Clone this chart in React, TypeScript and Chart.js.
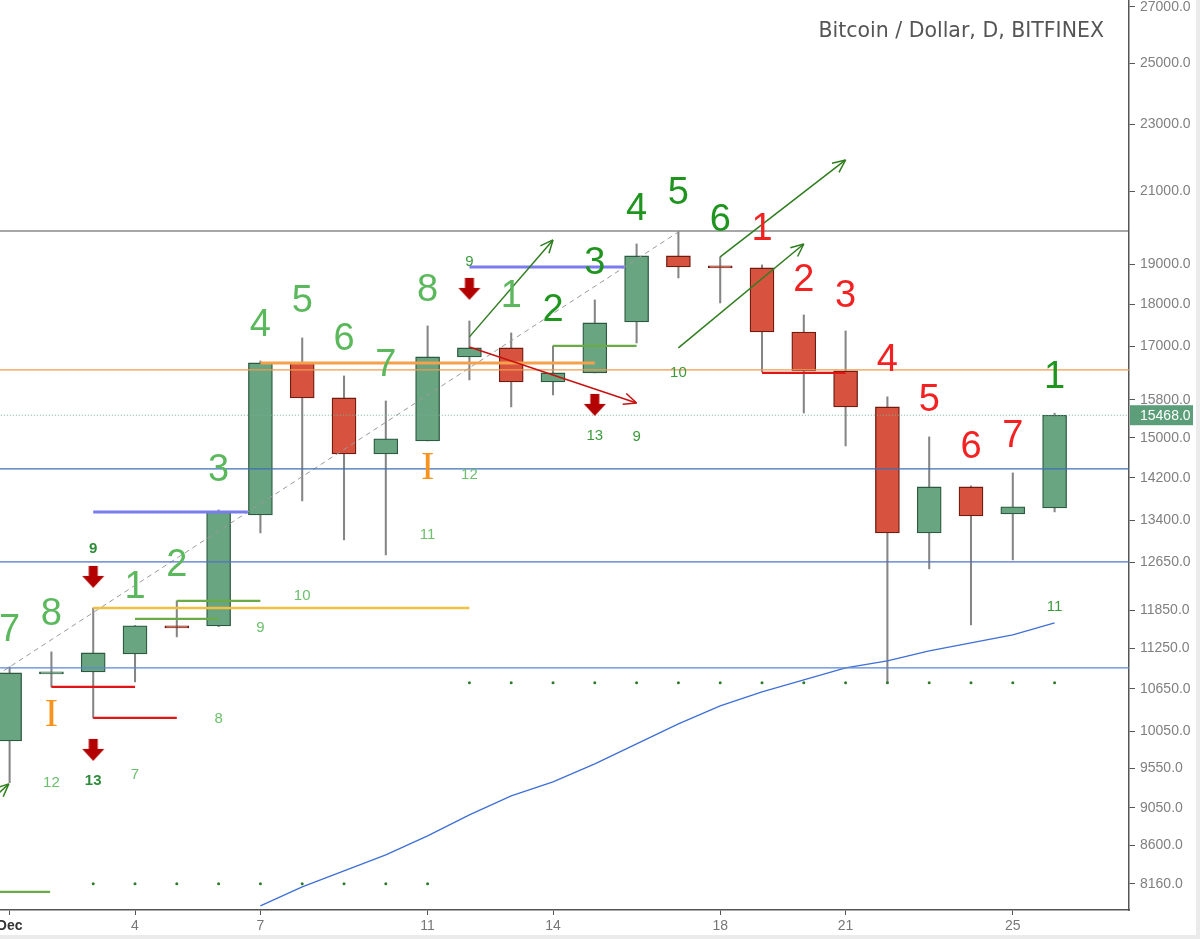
import React, { useEffect, useRef } from 'react';
import { Chart, registerables } from 'chart.js';

Chart.register(...registerables);

// ---------- candles (Dec 1 .. Dec 26) ----------
const DAYS = [1, 2, 3, 4, 5, 6, 7, 8, 9, 10, 11, 12, 13, 14, 15, 16, 17, 18, 19, 20, 21, 22, 23, 24, 25, 26];
const OPEN = [9918, 10868, 10897, 11168, 11603, 11603, 13500, 16612, 15837, 14672, 14935, 16748, 16955, 16187, 16387, 17568, 19223, 18963, 18911, 17329, 16432, 15644, 13173, 14026, 13519, 13630];
const HIGH = [10972, 11199, 11891, 11610, 12006, 13593, 16657, 17188, 16320, 15772, 17472, 17591, 17306, 17002, 18103, 19540, 19862, 19197, 18989, 17736, 17353, 15859, 15017, 14045, 14297, 15510];
const LOW = [9366, 10676, 10234, 10750, 11430, 11590, 13173, 13761, 13048, 12783, 14935, 16231, 15644, 15902, 16387, 17071, 18654, 18029, 16409, 15516, 14833, 10735, 12542, 11619, 12697, 13556];
const CLOSE = [10882, 10897, 11183, 11603, 11571, 13556, 16612, 15837, 14672, 14976, 16748, 16955, 16187, 16387, 17544, 19223, 18937, 18911, 17329, 16432, 15644, 13173, 14026, 13482, 13649, 15468];

// ---------- moving average ----------
const MA_DAYS = [7, 8, 9, 10, 11, 12, 13, 14, 15, 16, 17, 18, 19, 20, 21, 22, 23, 24, 25, 26];
const MA_VALUES = [7919, 8127, 8306, 8489, 8712, 8966, 9201, 9379, 9612, 9878, 10151, 10403, 10604, 10779, 10957, 11062, 11214, 11337, 11462, 11651];

// ---------- axes ----------
const X_MIN = 0.77;
const X_MAX = 27.78;
const X_TICKS = [1, 4, 7, 11, 14, 18, 21, 25];
const X_TICK_TEXT = ['Dec', '4', '7', '11', '14', '18', '21', '25'];
const Y_MIN = 7874;
const Y_MAX = 27259;
const Y_TICKS = [8160, 8600, 9050, 9550, 10050, 10650, 11250, 11850, 12650, 13400, 14200, 15000, 15800, 17000, 18000, 19000, 21000, 23000, 25000, 27000];
const LAST_PRICE = 15468;
const TITLE = 'Bitcoin / Dollar, D, BITFINEX';

// ---------- horizontal levels ----------
const LEVEL_PRICES = [19889, 16454, 14375, 12662, 10957, 15468, 16612, 13556, 18937, 11891, 11715, 12006, 17002, 8072, 10676, 10234, 16387];
const LEVEL_FROM = [0, 0, 0, 0, 0, 0, 7, 3, 12, 3, 4, 5, 14, 0.5, 2, 3, 19];
const LEVEL_TO = [28, 28, 28, 28, 28, 28, 15, 6.7, 15.71, 12, 6, 7, 16, 1.97, 4, 5, 21];
const LEVEL_KIND = ['grey', 'orangeThin', 'blueA', 'blueB', 'blueC', 'dotted', 'orangeThick', 'purple', 'purple', 'yellow', 'green', 'green', 'green', 'green', 'red', 'red', 'red'];

// ---------- trend line ----------
const TREND_DAYS = [0.5, 17];
const TREND_PRICES = [10770, 19862];

// ---------- arrows ----------
const ARROW_X1 = [12, 18, 17, 12, 0.3];
const ARROW_P1 = [17213, 19197, 16955, 16978, 9027];
const ARROW_X2 = [14, 21, 20, 16, 0.98];
const ARROW_P2 = [19648, 21914, 19540, 15729, 9353];
const ARROW_TONE = ['g', 'g', 'g', 'r', 'g'];

// ---------- block down arrows ----------
const DOWN_DAYS = [3, 3, 12, 15];
const DOWN_PRICES = [12405, 9797, 18377, 15687];

// ---------- dots ----------
const DOT_TOP_DAYS = [12, 13, 14, 15, 16, 17, 18, 19, 20, 21, 22, 23, 24, 25, 26];
const DOT_TOP_PRICE = 10735;
const DOT_BOTTOM_DAYS = [3, 4, 5, 6, 7, 8, 9, 10, 11];
const DOT_BOTTOM_PRICE = 8160;

// ---------- setup counts (big numbers) ----------
const SETUP_TEXT = ['7', '8', '1', '2', '3', '4', '5', '6', '7', '8', '1', '2', '3', '4', '5', '6', '1', '2', '3', '4', '5', '6', '7', '1'];
const SETUP_DAYS = [1, 2, 4, 5, 6, 7, 8, 9, 10, 11, 13, 14, 15, 16, 17, 18, 19, 20, 21, 22, 23, 24, 25, 26];
const SETUP_PRICES = [11587, 11827, 12271, 12645, 14395, 17568, 18152, 17236, 16635, 18427, 18276, 17931, 19118, 20581, 21035, 20274, 20027, 18680, 18276, 16748, 15859, 14874, 15099, 16364];
const SETUP_TONE = ['l', 'l', 'l', 'l', 'l', 'l', 'l', 'l', 'l', 'l', 'l', 'd', 'd', 'd', 'd', 'd', 'r', 'r', 'r', 'r', 'r', 'r', 'r', 'd'];

// ---------- countdown (small numbers) ----------
const COUNT_TEXT = ['9', '13', '12', '7', '8', '9', '10', '11', '12', '9', '13', '9', '10', '11'];
const COUNT_DAYS = [3, 3, 2, 4, 6, 7, 8, 11, 12, 12, 15, 16, 17, 26];
const COUNT_PRICES = [12906, 9404, 9378, 9482, 10234, 11587, 12104, 13155, 14277, 19092, 15058, 15037, 16409, 11924];
const COUNT_TONE = ['b', 'b', 'l', 'l', 'l', 'l', 'l', 'l', 'l', 'm', 'm', 'm', 'm', 'm'];

// ---------- "I" marks ----------
const I_DAYS = [2, 11];
const I_PRICES = [10304, 14434];

const LEVEL_STYLE: any = {
  grey: { borderColor: '#505050', borderWidth: 1.2 },
  orangeThin: { borderColor: '#ef9a4c', borderWidth: 1.3 },
  blueA: { borderColor: '#3d6fb8', borderWidth: 1.2 },
  blueB: { borderColor: '#5273c8', borderWidth: 1.3 },
  blueC: { borderColor: '#5b86d6', borderWidth: 1.3 },
  dotted: { borderColor: '#74b295', borderWidth: 1, borderDash: [1, 2] },
  orangeThick: { borderColor: '#f5a04a', borderWidth: 3 },
  purple: { borderColor: '#7b7bf0', borderWidth: 3 },
  yellow: { borderColor: '#f2c040', borderWidth: 2.5 },
  green: { borderColor: '#6aab48', borderWidth: 2.2 },
  red: { borderColor: '#e01515', borderWidth: 2.2 },
};
const ARROW_COLOR: any = { g: '#2f7d1f', r: '#c81010' };
const SETUP_COLOR: any = { l: '#5cb85c', d: '#1f951f', r: '#f32222' };
const COUNT_STYLE: any = {
  b: { color: '#2e8b3a', weight: 'bold' },
  l: { color: '#6cbf6c', weight: 'normal' },
  m: { color: '#3c9a3c', weight: 'normal' },
};

function makeDownArrow(color: string) {
  const c = document.createElement('canvas');
  c.width = 24;
  c.height = 24;
  const g = c.getContext('2d')!;
  g.fillStyle = color;
  g.beginPath();
  g.moveTo(7.5, 1);
  g.lineTo(16.5, 1);
  g.lineTo(16.5, 11);
  g.lineTo(23, 11);
  g.lineTo(12, 23);
  g.lineTo(1, 11);
  g.lineTo(7.5, 11);
  g.closePath();
  g.fill();
  return c;
}

const annotPlugin: any = {
  id: 'annot',
  beforeDraw(chart: any) {
    const { ctx, width, height } = chart;
    ctx.save();
    ctx.fillStyle = '#ffffff';
    ctx.fillRect(0, 0, width, height);
    ctx.fillStyle = '#ebebeb';
    ctx.fillRect(0, height - 4, width, 4);
    ctx.fillRect(width - 4, 0, 4, height);
    ctx.restore();
  },
  afterDatasetsDraw(chart: any) {
    const { ctx } = chart;
    const xs = chart.scales.x;
    const ys = chart.scales.y;
    ctx.save();
    // arrow heads
    chart.data.datasets.forEach((ds: any, i: number) => {
      if (!ds.arrowHead) return;
      const pts = chart.getDatasetMeta(i).data;
      const a = pts[0];
      const b = pts[1];
      const ang = Math.atan2(b.y - a.y, b.x - a.x);
      ctx.strokeStyle = ds.borderColor;
      ctx.lineWidth = 1.5;
      ctx.beginPath();
      for (const s of [-1, 1]) {
        ctx.moveTo(b.x, b.y);
        ctx.lineTo(b.x - 14 * Math.cos(ang + s * 0.42), b.y - 14 * Math.sin(ang + s * 0.42));
      }
      ctx.stroke();
    });
    // setup numbers
    ctx.textAlign = 'center';
    ctx.textBaseline = 'alphabetic';
    ctx.font = "38px 'Liberation Sans', Arial, sans-serif";
    SETUP_TEXT.forEach((t, i) => {
      ctx.fillStyle = SETUP_COLOR[SETUP_TONE[i]];
      ctx.fillText(t, xs.getPixelForValue(SETUP_DAYS[i]), ys.getPixelForValue(SETUP_PRICES[i]) + 13.6);
    });
    // countdown numbers
    COUNT_TEXT.forEach((t, i) => {
      const st = COUNT_STYLE[COUNT_TONE[i]];
      ctx.font = `${st.weight} 15px 'Liberation Sans', Arial, sans-serif`;
      ctx.fillStyle = st.color;
      ctx.fillText(t, xs.getPixelForValue(COUNT_DAYS[i]), ys.getPixelForValue(COUNT_PRICES[i]) + 5.4);
    });
    // I marks
    ctx.font = "40px 'Liberation Serif', 'DejaVu Serif', serif";
    ctx.fillStyle = '#f7931e';
    I_DAYS.forEach((d, i) => {
      ctx.fillText('I', xs.getPixelForValue(d), ys.getPixelForValue(I_PRICES[i]) + 13);
    });
    ctx.restore();
  },
  afterDraw(chart: any) {
    const { ctx } = chart;
    const ys = chart.scales.y;
    ctx.save();
    ctx.font = "20.5px 'DejaVu Sans', sans-serif";
    ctx.fillStyle = '#555555';
    ctx.textAlign = 'right';
    ctx.textBaseline = 'alphabetic';
    ctx.fillText(TITLE, 1104, 37);
    // last price tag
    const py = ys.getPixelForValue(LAST_PRICE);
    ctx.fillStyle = '#5c9e79';
    ctx.fillRect(chart.chartArea.right + 1, py - 10, 63, 20);
    ctx.fillStyle = '#ffffff';
    ctx.font = "14px 'Liberation Sans', Arial, sans-serif";
    ctx.textAlign = 'left';
    ctx.textBaseline = 'middle';
    ctx.fillText(LAST_PRICE.toFixed(1), chart.chartArea.right + 11, py + 1);
    ctx.restore();
  },
};

export default function App() {
  const ref = useRef<HTMLCanvasElement>(null);
  useEffect(() => {
    document.body.style.margin = '0';
    const canvas = ref.current!;
    const downArrow = makeDownArrow('#b30000');
    const datasets: any[] = [];

    // wicks
    datasets.push({
      type: 'bar',
      data: DAYS.map((d, i) => ({ x: d, y: [LOW[i], HIGH[i]] })),
      backgroundColor: '#858585',
      barThickness: 1.4,
      grouped: false,
      order: 10,
    });
    // bodies
    datasets.push({
      type: 'bar',
      data: DAYS.map((d, i) => ({ x: d, y: [OPEN[i], CLOSE[i]] })),
      backgroundColor: DAYS.map((_, i) => (CLOSE[i] >= OPEN[i] ? '#6aa581' : '#d8533f')),
      borderColor: DAYS.map((_, i) => (CLOSE[i] >= OPEN[i] ? '#2c5a40' : '#6e1c10')),
      borderWidth: 1.3,
      borderSkipped: false,
      barThickness: 24,
      grouped: false,
      order: 9,
    });
    // levels
    LEVEL_PRICES.forEach((p, i) => {
      datasets.push({
        type: 'line',
        data: [{ x: LEVEL_FROM[i], y: p }, { x: LEVEL_TO[i], y: p }],
        ...LEVEL_STYLE[LEVEL_KIND[i]],
        pointRadius: 0,
        order: 2,
      });
    });
    // trend line
    datasets.push({
      type: 'line',
      data: TREND_DAYS.map((d, i) => ({ x: d, y: TREND_PRICES[i] })),
      borderColor: '#9a9a9a',
      borderWidth: 1,
      borderDash: [5, 4],
      pointRadius: 0,
      order: 2,
    });
    // moving average
    datasets.push({
      type: 'line',
      data: MA_DAYS.map((d, i) => ({ x: d, y: MA_VALUES[i] })),
      borderColor: '#3e6fd6',
      borderWidth: 1.3,
      pointRadius: 0,
      tension: 0,
      order: 2,
    });
    // arrows
    ARROW_X1.forEach((x1, i) => {
      datasets.push({
        type: 'line',
        data: [{ x: x1, y: ARROW_P1[i] }, { x: ARROW_X2[i], y: ARROW_P2[i] }],
        borderColor: ARROW_COLOR[ARROW_TONE[i]],
        borderWidth: 1.5,
        pointRadius: 0,
        arrowHead: true,
        order: 1,
      });
    });
    // block arrows
    datasets.push({
      type: 'line',
      data: DOWN_DAYS.map((d, i) => ({ x: d, y: DOWN_PRICES[i] })),
      showLine: false,
      pointStyle: downArrow,
      pointRadius: 10,
      order: 1,
    });
    // dots
    datasets.push({
      type: 'line',
      data: [
        ...DOT_TOP_DAYS.map((d) => ({ x: d, y: DOT_TOP_PRICE })),
        ...DOT_BOTTOM_DAYS.map((d) => ({ x: d, y: DOT_BOTTOM_PRICE })),
      ],
      showLine: false,
      pointRadius: 1.5,
      pointBorderWidth: 0,
      pointBackgroundColor: '#2d7a2d',
      order: 1,
    });

    Chart.defaults.font.family = "'Liberation Sans', Arial, sans-serif";

    const chart = new Chart(canvas, {
      type: 'line',
      data: { datasets },
      options: {
        animation: false,
        responsive: true,
        maintainAspectRatio: false,
        events: [],
        layout: { padding: 0, autoPadding: false },
        plugins: { legend: { display: false }, tooltip: { enabled: false }, title: { display: false } },
        scales: {
          x: {
            type: 'linear',
            position: 'bottom',
            min: X_MIN,
            max: X_MAX,
            bounds: 'data',
            offset: false,
            afterBuildTicks: (s: any) => {
              s.ticks = X_TICKS.map((v) => ({ value: v }));
            },
            afterFit: (s: any) => {
              s.height = 29;
              s.paddingLeft = 0;
              s.paddingRight = 0;
            },
            grid: { drawOnChartArea: false, drawTicks: true, tickLength: 5, color: '#555', offset: false },
            border: { display: true, color: '#555', width: 1.5 },
            ticks: {
              autoSkip: false,
              maxRotation: 0,
              padding: 3,
              callback: (v: any) => {
                const k = X_TICKS.indexOf(Number(v));
                return k >= 0 ? X_TICK_TEXT[k] : '';
              },
              font: (c: any) => ({ size: 14, weight: c.tick && c.tick.value === 1 ? 'bold' : 'normal' }),
              color: (c: any) => (c.tick && c.tick.value === 1 ? '#333' : '#777'),
            },
          },
          y: {
            type: 'logarithmic',
            position: 'right',
            min: Y_MIN,
            max: Y_MAX,
            bounds: 'data',
            afterBuildTicks: (s: any) => {
              s.ticks = Y_TICKS.map((v) => ({ value: v }));
            },
            afterFit: (s: any) => {
              s.width = 71;
              s.paddingTop = 0;
              s.paddingBottom = 0;
            },
            grid: { drawOnChartArea: false, drawTicks: true, tickLength: 6, color: '#555' },
            border: { display: true, color: '#555', width: 1.5 },
            ticks: {
              autoSkip: false,
              padding: 5,
              font: { size: 14 },
              color: '#808080',
              callback: (v: any) => Number(v).toFixed(1),
            },
          },
        },
      } as any,
      plugins: [annotPlugin],
    } as any);
    return () => chart.destroy();
  }, []);
  return (
    <div style={{ width: 1200, height: 939, position: 'relative' }}>
      <canvas ref={ref} />
    </div>
  );
}
